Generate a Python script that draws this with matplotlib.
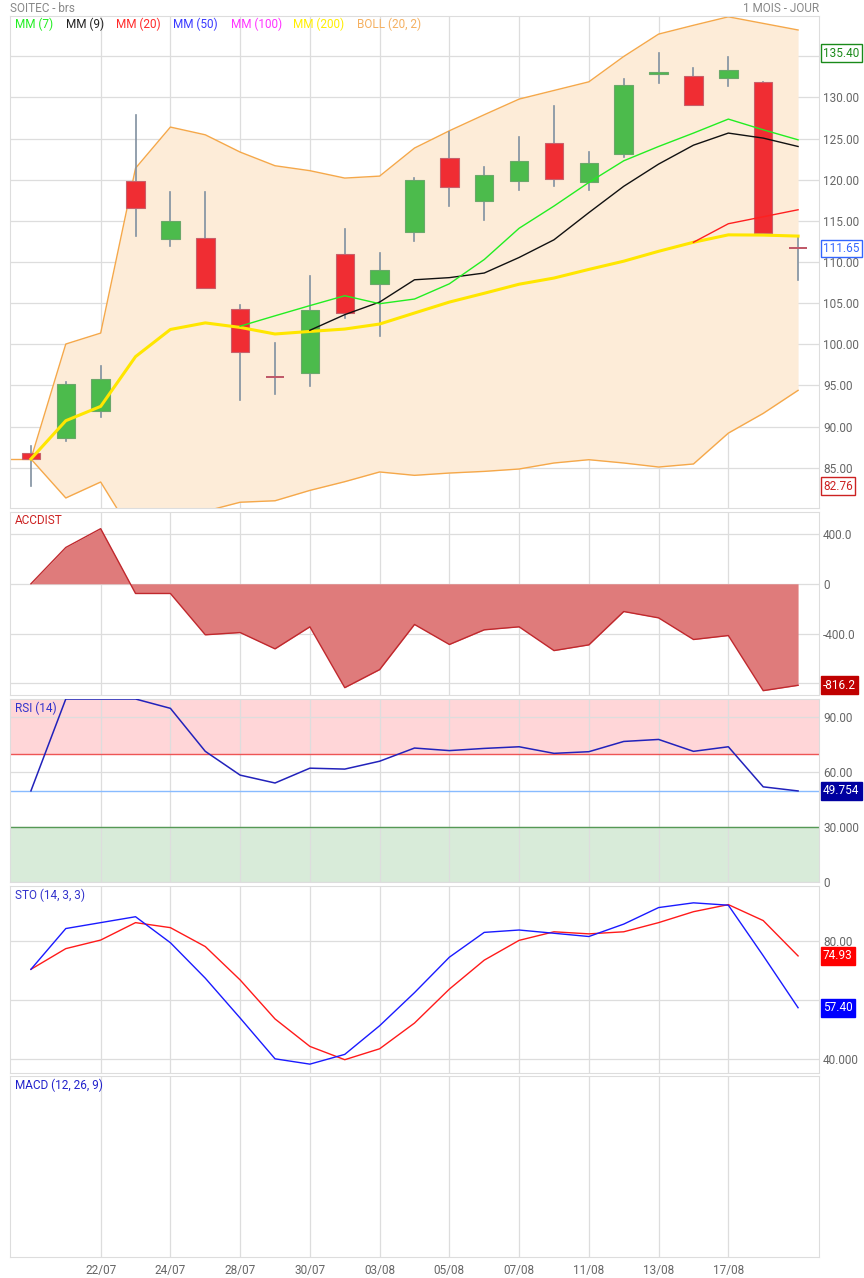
import matplotlib
matplotlib.use("Agg")
import matplotlib.pyplot as plt
import numpy as np
from matplotlib.patches import Rectangle

plt.rcParams["font.family"] = ["Roboto", "DejaVu Sans"]

nan = np.nan

# daily sessions, 20/07 -> 19/08
dates = ["20/07", "21/07", "22/07", "23/07", "24/07", "27/07", "28/07", "29/07",
         "30/07", "31/07", "03/08", "04/08", "05/08", "06/08", "07/08", "10/08",
         "11/08", "12/08", "13/08", "14/08", "17/08", "18/08", "19/08"]

opens = [86.80, 88.60, 91.84, 119.87, 112.80, 112.95, 104.30, 96.00, 96.46, 110.96,
         107.30, 113.64, 122.63, 117.40, 119.83, 124.45, 119.70, 123.15, 132.84,
         132.60, 132.42, 131.86, 111.65]
highs = [87.67, 95.40, 97.30, 127.90, 118.45, 118.45, 104.80, 100.10, 108.30, 114.04,
         111.10, 120.20, 125.86, 121.57, 125.20, 129.00, 123.40, 132.27, 135.40,
         133.60, 134.90, 131.86, 113.10]
lows = [82.76, 88.20, 91.20, 113.20, 111.90, 106.80, 93.20, 93.90, 94.90, 103.20,
        100.95, 112.60, 116.80, 115.05, 118.70, 119.20, 118.70, 122.80, 131.74,
        129.07, 131.45, 113.50, 107.76]
closes = [86.06, 95.17, 95.78, 116.55, 115.00, 106.80, 99.05, 96.00, 104.16, 103.80,
          109.00, 119.95, 119.10, 120.57, 122.26, 120.07, 122.00, 131.50, 133.10,
          129.07, 133.36, 113.50, 111.65]

mm7 = [nan, nan, nan, nan, nan, nan, 102.2, 103.46, 104.7, 105.9, 104.93, 105.5,
       107.35, 110.3, 114.1, 116.8, 119.67, 122.3, 124.04, 125.67, 127.37, 126.07, 124.85]
mm9 = [nan, nan, nan, nan, nan, nan, nan, nan, 101.7, 103.6, 105.13, 107.84, 108.1,
       108.66, 110.55, 112.7, 116.0, 119.2, 121.9, 124.2, 125.67, 125.06, 124.04]
mm20 = [nan] * 19 + [112.4, 114.65, 115.5, 116.35]
mm200 = [86.06, 90.71, 92.45, 98.5, 101.8, 102.6, 102.05, 101.25, 101.56, 101.85,
         102.46, 103.8, 105.13, 106.2, 107.3, 108.05, 109.1, 110.1, 111.3, 112.4,
         113.3, 113.27, 113.15]
boll_up = [86.06, 100.03, 101.36, 121.4, 126.4, 125.46, 123.36, 121.7, 121.1, 120.2,
           120.44, 123.85, 125.95, 127.9, 129.8, 130.85, 131.9, 134.98, 137.7, 138.77,
           139.8, 139.0, 138.2]
boll_low = [86.06, 81.32, 83.26, 76.4, 77.5, 79.7, 80.8, 80.98, 82.24, 83.3, 84.48,
            84.07, 84.35, 84.55, 84.84, 85.57, 85.97, 85.57, 85.08, 85.45, 89.2, 91.6, 94.4]

accdist = [0, 292, 443, -78, -78, -410, -392, -523, -346, -835, -690, -327, -488,
           -370, -346, -537, -491, -223, -274, -448, -416, -859, -816.2]

rsi = [49.8, 100, 100, 100, 94.9, 71.4, 58.4, 54.1, 62.2, 61.7, 66.0, 73.2, 71.8,
       73.0, 73.9, 70.3, 71.2, 76.8, 77.9, 71.4, 73.9, 52.0, 49.754]

sto_k = [70.4, 84.2, 86.2, 88.2, 79.4, 67.4, 53.9, 40.1, 38.3, 41.6, 51.3, 62.5, 74.5,
         82.9, 83.7, 82.6, 81.5, 85.7, 91.3, 92.9, 92.1, 75.0, 57.40]
sto_d = [70.4, 77.4, 80.3, 86.2, 84.5, 78.1, 66.8, 53.6, 44.3, 39.8, 43.5, 52.2, 63.7,
         73.5, 80.2, 83.1, 82.4, 83.1, 86.2, 89.9, 92.3, 86.9, 74.93]

legend_names = ["MM (7)", "MM (9)", "MM (20)", "MM (50)", "MM (100)", "MM (200)", "BOLL (20, 2)"]
legend_colors = ["#22ee22", "#222222", "#ff2a2a", "#3a3aff", "#ff33ff", "#ffee00", "#f5b060"]
legend_x = [15, 66, 116, 173, 231, 293, 357]

W, H = 864, 1278
x = np.arange(len(dates))
xlim = (-0.6, 22.6)
grid_c = "#dddddd"
label_c = "#666666"
fs = 8.5


def panel(top, bottom):
    ax = fig.add_axes([10 / W, 1 - bottom / H, 809 / W, (bottom - top) / H])
    ax.set_xlim(xlim)
    for s in ax.spines.values():
        s.set_color(grid_c)
    ax.set_xticks(x[2:21:2])
    ax.set_xticklabels([])
    ax.tick_params(length=0, labelsize=fs, labelcolor=label_c, pad=3)
    ax.yaxis.tick_right()
    ax.grid(True, color=grid_c, lw=0.9)
    ax.set_axisbelow(True)
    return ax


def value_box(ax, y, text, fc, ec, tc):
    ax.text(1 + 4 / 809, y, text, transform=ax.get_yaxis_transform(), va="center",
            ha="left", fontsize=fs, color=tc, zorder=10, clip_on=False,
            bbox=dict(boxstyle="square,pad=0.2", fc=fc, ec=ec, lw=1))


def panel_label(ax, text, color, h):
    ax.text(5 / 809, 1 - 9 / h, text, transform=ax.transAxes, color=color,
            fontsize=fs, va="center")


fig = plt.figure(figsize=(W / 100, H / 100), dpi=100)
fig.text(10 / W, 1 - 9 / H, "SOITEC - brs", fontsize=fs, color="#888888", va="center")
fig.text(819 / W, 1 - 9 / H, "1 MOIS - JOUR", fontsize=fs, color="#888888", va="center", ha="right")

# price panel
ax = panel(16, 508)
ax.set_ylim(80.1, 139.9)
yt = np.arange(85, 136, 5)
ax.set_yticks(yt)
# 135.00 sits under the high-value box
ax.set_yticklabels([f"{v:.2f}" if v < 135 else "" for v in yt])
ax.fill_between(x, boll_low, boll_up, color="#fdecd8", lw=0, zorder=1)
ax.plot(x, boll_up, color="#f5a84a", lw=1, zorder=2)
ax.plot(x, boll_low, color="#f5a84a", lw=1, zorder=2)
ax.plot([xlim[0], 0], [closes[0], closes[0]], color="#f5a84a", lw=1, zorder=2)

bw = 0.53
for i in range(len(dates)):
    o, h, l, c = opens[i], highs[i], lows[i], closes[i]
    ax.plot([i, i], [l, h], color="#8090a0", lw=1.2, zorder=3)
    if c == o:
        ax.add_patch(Rectangle((i - bw / 2, c - 0.12), bw, 0.24, fc="#c05a6a", ec="none", zorder=4))
        continue
    if c > o:
        fc, ec = "#4cbb4c", "#6aa86a"
    else:
        fc, ec = "#f02d33", "#c8606a"
    ax.add_patch(Rectangle((i - bw / 2, min(o, c)), bw, abs(c - o), fc=fc, ec=ec, lw=0.8, zorder=4))

ax.plot(x, mm200, color="#ffe600", lw=2.2, zorder=5)
ax.plot(x, mm20, color="#ff2020", lw=1, zorder=5)
ax.plot(x, mm9, color="#111111", lw=1, zorder=5)
ax.plot(x, mm7, color="#22ee22", lw=1, zorder=5)

for name, col, lx in zip(legend_names, legend_colors, legend_x):
    fig.text(lx / W, 1 - 24 / H, name, color=col, fontsize=fs, va="center")

value_box(ax, max(highs), f"{max(highs):.2f}", "white", "#1a8a1a", "#1a8a1a")
value_box(ax, closes[-1], f"{closes[-1]:.2f}", "white", "#3366ff", "#3366ff")
value_box(ax, min(lows), f"{min(lows):.2f}", "white", "#cc2222", "#cc2222")

# accumulation / distribution
ax = panel(512, 695)
ax.set_ylim(-894, 577)
ax.set_yticks([400, 0, -400, -800])
ax.set_yticklabels(["400.0", "0", "-400.0", "-800.0"])
ax.fill_between(x, accdist, 0, color="#df7b7b", lw=0, zorder=2)
ax.plot(x, accdist, color="#c0282d", lw=1, zorder=3)
panel_label(ax, "ACCDIST", "#cc2222", 183)
value_box(ax, accdist[-1], f"{accdist[-1]:.1f}", "#c00000", "#c00000", "white")

# RSI
ax = panel(699, 882)
ax.set_ylim(0.5, 100)
ax.set_yticks([90, 60, 30, 0])
ax.set_yticklabels(["90.00", "60.00", "30.000", "0"])
ax.axhspan(70, 100, color="#ffd6d8", lw=0, zorder=0)
ax.axhspan(0, 30, color="#d8ebd9", lw=0, zorder=0)
ax.axhline(70, color="#ee5555", lw=1, zorder=2)
ax.axhline(30, color="#559955", lw=1, zorder=2)
ax.axhline(rsi[-1], color="#88bbff", lw=1, zorder=2)
ax.plot(x, rsi, color="#2222bb", lw=1.1, zorder=3)
panel_label(ax, "RSI (14)", "#3333cc", 183)
value_box(ax, rsi[-1], f"{rsi[-1]:.3f}", "#0000a0", "#0000a0", "white")

# stochastic
ax = panel(886, 1073)
ax.set_ylim(35.3, 98.6)
ax.set_yticks([80, 60, 40])
ax.set_yticklabels(["80.00", "", "40.000"])
ax.plot(x, sto_d, color="#ff1a1a", lw=1, zorder=3)
ax.plot(x, sto_k, color="#1a1aff", lw=1, zorder=3)
panel_label(ax, "STO (14, 3, 3)", "#3333cc", 187)
value_box(ax, sto_d[-1], f"{sto_d[-1]:.2f}", "#ff0000", "#ff0000", "white")
value_box(ax, sto_k[-1], f"{sto_k[-1]:.2f}", "#0000ff", "#0000ff", "white")

# MACD (empty)
ax = panel(1076, 1257)
ax.set_ylim(0, 1)
ax.set_yticks([])
ax.grid(True, axis="x", color=grid_c, lw=0.9)
ax.set_xticklabels(dates[2:21:2])
ax.tick_params(axis="x", pad=5)
panel_label(ax, "MACD (12, 26, 9)", "#2222cc", 181)

fig.savefig("out.png", dpi=100)
